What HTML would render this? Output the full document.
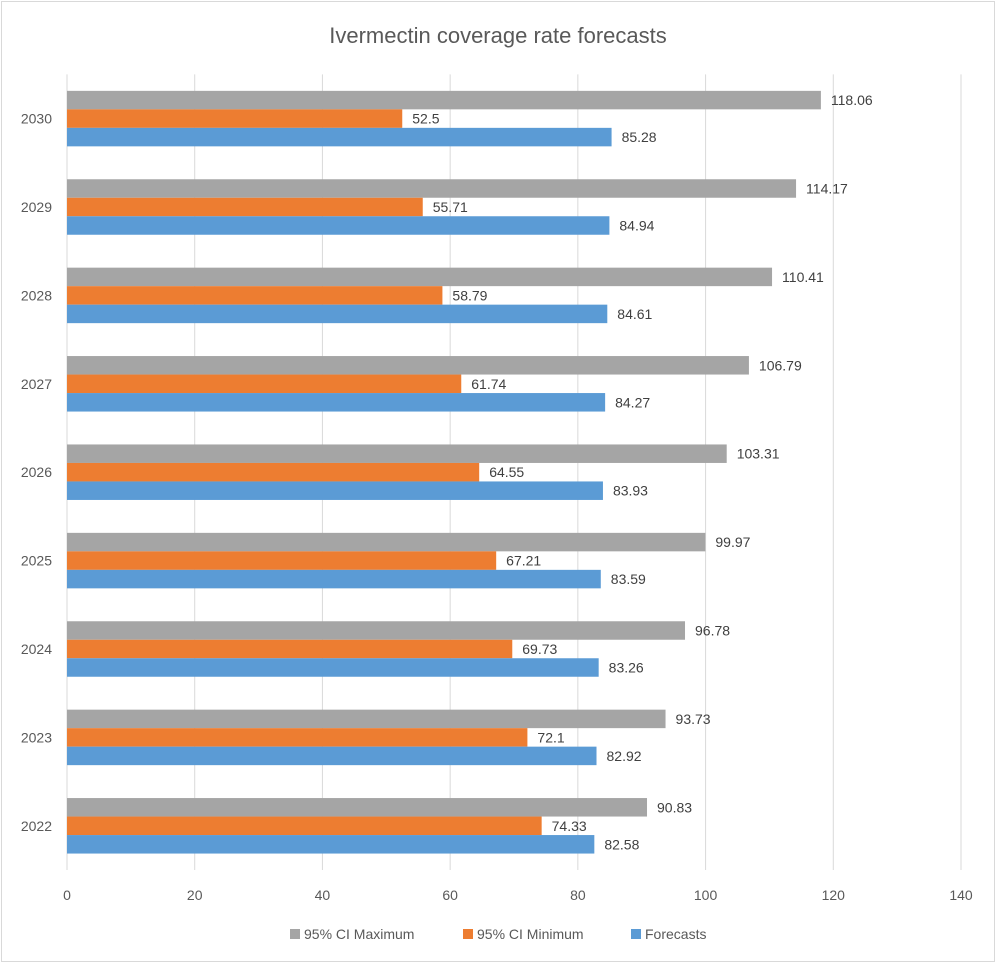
<!DOCTYPE html>
<html><head><meta charset="utf-8"><style>
body{margin:0;background:#fff;}
svg{display:block;font-family:"Liberation Sans",sans-serif;}
</style></head><body>
<svg id="c" width="996" height="963">
<rect x="1.5" y="1.5" width="993" height="960" fill="#fff" stroke="#d9d9d9"/>
<text x="498" y="43" text-anchor="middle" font-size="22" fill="#595959">Ivermectin  coverage rate forecasts</text>
<g id="grid"></g><g id="bars"></g><g id="labels"></g>
<g>
<rect x="290" y="929" width="10" height="10" fill="#a5a5a5"/>
<text x="304" y="939" font-size="14" fill="#595959">95% CI  Maximum</text>
<rect x="463" y="929" width="10" height="10" fill="#ed7d31"/>
<text x="477" y="939" font-size="14" fill="#595959">95% CI  Minimum</text>
<rect x="631" y="929" width="10" height="10" fill="#5b9bd5"/>
<text x="645" y="939" font-size="14" fill="#595959">Forecasts</text>
</g>
</svg>
<script>
const years=["2022","2023","2024","2025","2026","2027","2028","2029","2030"];
const maxVals=[90.83,93.73,96.78,99.97,103.31,106.79,110.41,114.17,118.06];
const minVals=[74.33,72.1,69.73,67.21,64.55,61.74,58.79,55.71,52.5];
const forecastVals=[82.58,82.92,83.26,83.59,83.93,84.27,84.61,84.94,85.28];
const xTicks=[0,20,40,60,80,100,120,140];
const NS="http://www.w3.org/2000/svg";
const x0=67,x1=961,yTop=74.4,yBot=870,xMax=140;
const xs=v=>x0+(x1-x0)*v/xMax;
const band=(yBot-yTop)/years.length;
const bh=18.5;
function mk(tag,attrs,parent,txt){const e=document.createElementNS(NS,tag);for(const k in attrs)e.setAttribute(k,attrs[k]);if(txt!=null)e.textContent=txt;document.getElementById(parent).appendChild(e);return e;}
xTicks.forEach(t=>{
 const l=mk('line',{x1:xs(t),x2:xs(t),y1:yTop,y2:yBot,stroke:'#d9d9d9','stroke-width':1},'grid');
 
 
 const tx=mk('text',{x:xs(t),y:900,'text-anchor':'middle','font-size':14,fill:'#595959'},'grid',t);
 
 
});
const series=[[maxVals,'#a5a5a5','max'],[minVals,'#ed7d31','min'],[forecastVals,'#5b9bd5','forecast']];
years.forEach((y,i)=>{
 const c=yBot-band*(i+0.5);
 const yl=mk('text',{x:52,y:c+5,'text-anchor':'end','font-size':14,fill:'#595959'},'labels',y);
 
 
 series.forEach((s,j)=>{
  const v=s[0][i];const top=c-1.5*bh+j*bh;
  const r=mk('rect',{x:x0,y:top,width:xs(v)-x0,height:bh,fill:s[1]},'bars');
  
  
  const t=mk('text',{x:xs(v)+10,y:top+bh/2+5,'font-size':14,fill:'#404040'},'labels',String(v));
  
  
 });
});
</script>
</body></html>
